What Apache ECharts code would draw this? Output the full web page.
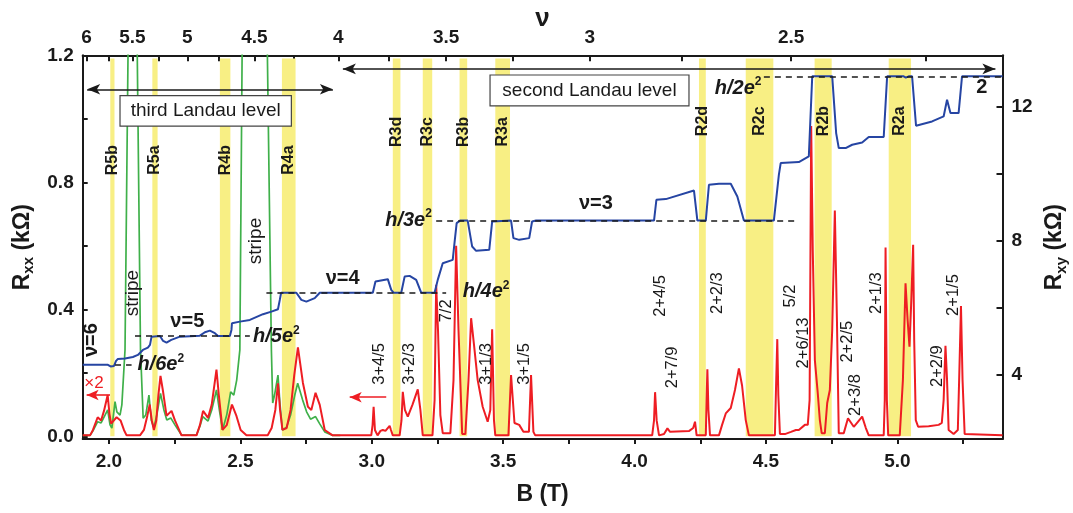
<!DOCTYPE html>
<html><head><meta charset="utf-8">
<script src="https://cdn.jsdelivr.net/npm/echarts@6/dist/echarts.min.js"></script>
<style>html,body{margin:0;padding:0;background:#fff}#c{width:1073px;height:513px}</style>
</head><body><div id="c"></div>
<script>
// ---------- data ----------
const redB = [1.900,1.928,1.939,1.957,1.970,1.981,1.995,2.002,2.008,2.015,2.029,2.044,2.057,2.067,2.118,2.133,2.146,2.155,2.163,2.171,2.180,2.188,2.196,2.205,2.219,2.238,2.251,2.276,2.333,2.346,2.358,2.377,2.391,2.409,2.418,2.432,2.448,2.468,2.485,2.501,2.523,2.604,2.619,2.633,2.643,2.651,2.660,2.676,2.691,2.705,2.719,2.738,2.757,2.770,2.786,2.802,2.821,2.851,2.998,3.003,3.007,3.012,3.022,3.033,3.042,3.052,3.068,3.073,3.080,3.106,3.113,3.118,3.126,3.137,3.155,3.175,3.185,3.194,3.231,3.239,3.245,3.252,3.261,3.270,3.299,3.311,3.321,3.330,3.344,3.356,3.368,3.378,3.389,3.403,3.422,3.441,3.451,3.458,3.465,3.470,3.520,3.530,3.543,3.561,3.577,3.598,3.606,3.615,3.622,4.067,4.074,4.078,4.084,4.093,4.112,4.125,4.135,4.208,4.223,4.230,4.236,4.271,4.274,4.277,4.281,4.287,4.321,4.333,4.347,4.366,4.382,4.397,4.409,4.423,4.435,4.534,4.538,4.543,4.547,4.553,4.572,4.595,4.614,4.625,4.648,4.659,4.666,4.672,4.678,4.686,4.697,4.705,4.712,4.724,4.733,4.743,4.752,4.762,4.770,4.777,4.796,4.812,4.834,4.849,4.866,4.880,4.891,4.948,4.952,4.955,4.960,4.965,5.009,5.021,5.031,5.039,5.046,5.053,5.060,5.064,5.070,5.079,5.119,5.157,5.169,5.176,5.183,5.189,5.195,5.214,5.230,5.235,5.242,5.248,5.256,5.400];
const redR = [0.003,0.003,0.02,0.06,0.05,0.08,0.13,0.07,0.04,0.045,0.06,0.05,0.02,0.003,0.003,0.02,0.065,0.10,0.05,0.02,0.05,0.13,0.19,0.145,0.065,0.08,0.05,0.003,0.003,0.035,0.08,0.058,0.10,0.21,0.13,0.02,0.035,0.10,0.064,0.02,0.003,0.003,0.026,0.083,0.167,0.083,0.02,0.026,0.083,0.193,0.28,0.168,0.093,0.083,0.137,0.099,0.02,0.003,0.003,0.035,0.093,0.02,0.003,0.017,0.02,0.017,0.033,0.02,0.003,0.003,0.05,0.14,0.083,0.062,0.10,0.148,0.083,0.003,0.003,0.114,0.477,0.335,0.067,0.01,0.01,0.177,0.60,0.335,0.007,0.007,0.177,0.372,0.288,0.177,0.093,0.046,0.083,0.337,0.05,0.003,0.003,0.193,0.042,0.036,0.014,0.014,0.193,0.014,0.003,0.003,0.05,0.139,0.05,0.003,0.007,0.025,0.014,0.017,0.026,0.046,0.003,0.003,0.114,0.211,0.083,0.003,0.003,0.036,0.072,0.089,0.146,0.214,0.16,0.051,0.003,0.003,0.146,0.306,0.13,0.007,0.007,0.014,0.02,0.02,0.036,0.036,0.114,0.977,0.587,0.24,0.136,0.051,0.01,0.01,0.105,0.146,0.335,0.711,0.366,0.01,0.01,0.057,0.03,0.045,0.062,0.026,0.003,0.003,0.114,0.595,0.114,0.003,0.003,0.177,0.482,0.366,0.282,0.429,0.603,0.303,0.051,0.03,0.032,0.036,0.042,0.114,0.285,0.177,0.02,0.007,0.02,0.177,0.41,0.177,0.007,0.003];

const greenB = [1.900,1.928,1.939,1.957,1.970,1.985,1.995,2.004,2.011,2.023,2.030,2.042,2.049,2.061,2.073,2.091,2.107,2.120,2.130,2.140,2.152,2.161,2.171,2.182,2.196,2.209,2.220,2.235,2.251,2.276,2.333,2.346,2.357,2.377,2.391,2.409,2.420,2.432,2.448,2.463,2.475,2.486,2.498,2.507,2.555,2.602,2.618,2.623,2.630,2.643,2.651,2.660,2.676,2.691,2.707,2.718,2.737,2.752,2.767,2.786,2.802,2.821,2.851,2.880];
const greenR = [0.003,0.003,0.017,0.046,0.042,0.067,0.083,0.036,0.026,0.109,0.077,0.067,0.099,0.272,1.248,1.6,1.248,0.272,0.057,0.067,0.13,0.051,0.026,0.067,0.135,0.083,0.051,0.058,0.036,0.004,0.004,0.032,0.062,0.048,0.083,0.146,0.083,0.02,0.067,0.14,0.13,0.177,0.272,1.248,1.6,1.248,0.272,0.105,0.13,0.193,0.099,0.02,0.029,0.067,0.13,0.167,0.114,0.077,0.054,0.062,0.039,0.014,0.003,0.003];

const blueB = [1.900,1.996,2.006,2.019,2.027,2.034,2.061,2.091,2.110,2.129,2.148,2.156,2.162,2.167,2.194,2.206,2.219,2.237,2.270,2.346,2.365,2.384,2.403,2.415,2.460,2.466,2.468,2.498,2.536,2.586,2.618,2.643,2.650,2.655,2.713,2.732,2.751,2.783,2.802,3.004,3.014,3.061,3.074,3.083,3.112,3.125,3.144,3.169,3.188,3.239,3.251,3.270,3.308,3.316,3.323,3.336,3.365,3.382,3.397,3.447,3.458,3.530,3.539,3.561,3.599,3.610,3.625,4.074,4.083,4.119,4.226,4.239,4.271,4.283,4.321,4.366,4.391,4.416,4.530,4.549,4.556,4.625,4.663,4.676,4.752,4.767,4.777,4.803,4.828,4.866,4.891,4.948,4.961,5.024,5.032,5.043,5.056,5.071,5.132,5.176,5.189,5.202,5.233,5.246,5.400];
const blueR = [4.302,4.302,4.254,4.27,4.418,4.478,4.493,4.537,4.597,4.746,4.815,4.896,5.143,5.163,5.163,5.015,4.964,5.045,5.143,5.173,5.275,5.322,5.245,5.163,5.163,5.343,5.543,5.591,5.642,5.812,5.890,5.961,6.239,6.453,6.453,6.239,6.188,6.290,6.453,6.453,6.785,6.857,6.537,6.453,6.453,6.934,6.955,6.836,6.457,6.453,6.836,7.334,7.433,8.03,8.528,8.604,8.604,7.830,7.701,7.731,8.576,8.604,8.081,8.030,8.081,8.576,8.604,8.604,9.224,9.245,9.501,8.604,8.604,9.672,9.701,9.701,9.322,8.604,8.604,9.97,10.319,10.349,10.516,12.906,12.906,11.215,10.767,10.767,10.866,10.934,11.096,11.096,12.906,12.906,12.87,12.906,12.906,11.433,11.561,11.710,12.209,11.812,11.812,12.906,12.906];

const bandLabels = ['R5b','R5a','R4b','R4a','R3d','R3c','R3b','R3a','R2d','R2c','R2b','R2a'];
const bandStart  = [2.005,2.165,2.422,2.658,3.080,3.194,3.334,3.470,4.245,4.423,4.685,4.967];
const bandEnd    = [2.021,2.185,2.462,2.710,3.109,3.230,3.363,3.526,4.271,4.528,4.750,5.052];
const bandLabelR = [0.87,0.87,0.87,0.87,0.959,0.959,0.959,0.959,0.993,0.993,0.993,0.993];

// plateaus h/(n e^2) in kOhm
const plateauN    = [2, 3, 4, 5, 6];
const plateauVal  = [12.906, 8.604, 6.453, 5.163, 4.302];
const plateauFrom = [4.492, 3.245, 2.599, 2.099, 2.023];
const plateauTo   = [5.400, 4.625, 3.283, 2.536, 2.086];

const fracText = ['3+4/5','3+2/3','7/2','3+1/3','3+1/5','2+7/9','2+4/5','2+2/3','5/2','2+6/13','2+2/5','2+3/8','2+1/3','2+2/9','2+1/5'];
const fracB    = [3.030,3.144,3.283,3.435,3.580,4.144,4.100,4.315,4.594,4.644,4.809,4.841,4.920,5.151,5.214];
const fracR    = [0.228,0.228,0.395,0.228,0.228,0.217,0.442,0.451,0.442,0.294,0.298,0.130,0.451,0.221,0.445];

const xTicks  = [2.0,2.25,2.5,2.75,3.0,3.25,3.5,3.75,4.0,4.25,4.5,4.75,5.0,5.25];
const xLabels = [2.0,2.5,3.0,3.5,4.0,4.5,5.0];
const nuTicks  = [6,5.75,5.5,5.25,5,4.75,4.5,4.25,4,3.75,3.5,3.25,3,2.75,2.5,2.25];
const nuLabels = [6,5.5,5,4.5,4,3.5,3,2.5];
const NU_B = 11.49; // filling factor x field (T)
const yLTicks = [0,0.2,0.4,0.6,0.8,1.0,1.2];
const yLLabels = [0,0.4,0.8,1.2];
const yRTicks = [4,6,8,10,12];
const yRLabels = [4,8,12];

// ---------- chart ----------
const FONT = '"Liberation Sans", Arial, Helvetica, sans-serif';
const INK = '#1a1a1a';
const RED = '#ee1d23', BLUE = '#2645a3', GREEN = '#3fb04a', YEL = '#f8ef84';
const zip = (a, b) => a.map((v, i) => [v, b[i]]);
const lblStyle = {fontSize: 19, fontWeight: 'bold', fontFamily: FONT, color: INK};
const axLine = {show: true, onZero: false, lineStyle: {color: INK, width: 2}};

const chart = echarts.init(document.getElementById('c'));
const option = {
  animation: false,
  backgroundColor: '#fff',
  grid: {left: 82.7, right: 70.5, top: 55.3, bottom: 74, containLabel: false, outerBoundsMode: 'none'},
  xAxis: [
    {type: 'value', min: 1.9, max: 5.4, position: 'bottom', axisLine: axLine, splitLine: {show: false},
     axisTick: {show: true, inside: false, length: 5, lineStyle: {color: INK, width: 2}, customValues: xTicks},
     axisLabel: Object.assign({customValues: xLabels, margin: 13, formatter: v => v.toFixed(1)}, lblStyle),
     name: 'B (T)', nameLocation: 'middle', nameGap: 44,
     nameTextStyle: {fontSize: 23, fontWeight: 'bold', fontFamily: FONT, color: INK}},
    {type: 'value', min: 1.9, max: 5.4, position: 'top', axisLine: axLine, splitLine: {show: false},
     axisTick: {show: true, inside: true, length: 6, lineStyle: {color: INK, width: 2}, customValues: nuTicks.map(n => NU_B / n)},
     axisLabel: Object.assign({customValues: nuLabels.map(n => NU_B / n), margin: 8,
       formatter: v => { const n = Math.round(NU_B / v * 4) / 4; return (n % 1 === 0) ? String(n) : n.toFixed(1); }}, lblStyle),
     name: 'ν', nameLocation: 'middle', nameGap: 23, nameMoveOverlap: false,
     nameTextStyle: {fontSize: 26, fontWeight: 'bold', fontFamily: FONT, color: INK}}
  ],
  yAxis: [
    {type: 'value', min: -0.0085, max: 1.2, position: 'left', axisLine: axLine, splitLine: {show: false},
     axisTick: {show: true, inside: true, length: 5, lineStyle: {color: INK, width: 2}, customValues: yLTicks},
     axisLabel: Object.assign({customValues: yLLabels, margin: 9, formatter: v => v.toFixed(1)}, lblStyle),
     name: '{r|R}{s|xx}{r| (kΩ)}', nameLocation: 'middle', nameRotate: 90, nameGap: 43,
     nameTextStyle: {rich: {
       r: {fontSize: 23, fontWeight: 'bold', fontFamily: FONT, color: INK, lineHeight: 28},
       s: {fontSize: 15, fontWeight: 'bold', fontFamily: FONT, color: INK, lineHeight: 15, verticalAlign: 'bottom'}}}},
    {type: 'value', min: 2.09, max: 13.534, position: 'right', axisLine: axLine, splitLine: {show: false},
     axisTick: {show: true, inside: true, length: 6, lineStyle: {color: INK, width: 2}, customValues: yRTicks},
     axisLabel: Object.assign({customValues: yRLabels, margin: 9, formatter: v => String(v)}, lblStyle),
     name: '{r|R}{s|xy}{r| (kΩ)}', nameLocation: 'middle', nameRotate: 90, nameGap: 31,
     nameTextStyle: {rich: {
       r: {fontSize: 23, fontWeight: 'bold', fontFamily: FONT, color: INK, lineHeight: 28},
       s: {fontSize: 15, fontWeight: 'bold', fontFamily: FONT, color: INK, lineHeight: 15, verticalAlign: 'bottom'}}}}
  ],
  series: [
    {name: 'bands', type: 'line', data: [], z: 1, silent: true,
     markArea: {silent: true, itemStyle: {color: YEL}, label: {show: false},
       data: bandStart.map((s, i) => [{xAxis: s, yAxis: 0}, {xAxis: bandEnd[i], yAxis: 1.19}])},
     markLine: {silent: true, symbol: ['arrow', 'arrow'], symbolSize: [8, 13], label: {show: false},
       lineStyle: {color: INK, width: 1.6, type: 'solid'},
       data: [
         [{coord: [1.917, 1.093]}, {coord: [2.852, 1.093]}],
         [{coord: [2.890, 1.157]}, {coord: [5.373, 1.157]}]
       ]}},
    {name: 'green', type: 'line', data: zip(greenB, greenR), z: 2, showSymbol: false, symbol: 'none',
     lineStyle: {color: GREEN, width: 1.7}, clip: true},
    {name: 'Rxx', type: 'line', data: zip(redB, redR), z: 3, showSymbol: false, symbol: 'none',
     lineStyle: {color: RED, width: 2}, clip: true,
     markLine: {silent: true, symbol: ['none', 'arrow'], symbolSize: [8, 12], label: {show: false},
       lineStyle: {color: RED, width: 1.6, type: 'solid'},
       data: [
         [{coord: [2.004, 0.13]}, {coord: [1.915, 0.13]}],
         [{coord: [3.055, 0.123]}, {coord: [2.916, 0.123]}]
       ]}},
    {name: 'Rxy', type: 'line', yAxisIndex: 1, data: zip(blueB, blueR), z: 4, showSymbol: false, symbol: 'none',
     lineStyle: {color: BLUE, width: 2}, clip: true,
     markLine: {silent: true, symbol: ['none', 'none'], label: {show: false},
       lineStyle: {color: INK, width: 1.5, type: [6, 5]},
       data: plateauVal.map((v, i) => [{coord: [plateauFrom[i], v]}, {coord: [plateauTo[i], v]}])}}
  ]
};
chart.setOption(option);

// ---------- annotations placed in data coordinates ----------
const P = (b, r) => chart.convertToPixel({xAxisIndex: 0, yAxisIndex: 0}, [b, r]);
const G = [];
function txt(t, b, r, o) {
  o = o || {};
  const p = P(b, r);
  G.push({type: 'text', x: p[0], y: p[1], rotation: o.rot ? Math.PI / 2 : 0, z: 100, silent: true,
    style: {text: t, fontSize: o.size || 16, fontWeight: o.bold ? 'bold' : 'normal', fontStyle: o.italic ? 'italic' : 'normal',
      fontFamily: FONT, fill: o.color || INK, align: 'center', verticalAlign: 'middle', rich: o.rich}});
}
function box(b1, r1, b2, r2, label) {
  const p1 = P(b1, r1), p2 = P(b2, r2);
  G.push({type: 'rect', z: 99, silent: true, shape: {x: p1[0], y: p1[1], width: p2[0] - p1[0], height: p2[1] - p1[1]},
    style: {fill: '#fff', stroke: '#444', lineWidth: 1.2}});
  txt(label, (b1 + b2) / 2, (r1 + r2) / 2, {size: 19});
}
box(2.042, 1.073, 2.694, 0.977, 'third Landau level');
box(3.450, 1.138, 4.207, 1.041, 'second Landau level');

bandLabels.forEach((l, i) => txt(l, (bandStart[i] + bandEnd[i]) / 2, bandLabelR[i], {rot: true, bold: true, size: 16}));
fracText.forEach((t, i) => txt(t, fracB[i], fracR[i], {rot: true, size: 16.5}));

const hRich = (size) => ({
  i: {fontSize: size, fontWeight: 'bold', fontStyle: 'italic', fontFamily: FONT, fill: INK, lineHeight: size + 4},
  s: {fontSize: Math.round(size * 0.62), fontWeight: 'bold', fontFamily: FONT, fill: INK, verticalAlign: 'top', lineHeight: 12}
});
const hLabelB = [4.394, 3.140, 3.435, 2.637, 2.197];
const hLabelR = [1.097, 0.681, 0.455, 0.314, 0.225];
plateauN.forEach((n, i) => txt('{i|h/' + n + 'e}{s|2}', hLabelB[i], hLabelR[i], {rich: hRich(20)}));

txt('2', 5.321, 1.100, {bold: true, size: 20});
txt('ν=3', 3.853, 0.734, {bold: true, size: 20});
txt('ν=4', 2.889, 0.498, {bold: true, size: 20});
txt('ν=5', 2.298, 0.361, {bold: true, size: 20});
txt('ν=6', 1.935, 0.303, {bold: true, size: 20, rot: true});
txt('stripe', 2.092, 0.451, {rot: true, size: 19});
txt('stripe', 2.558, 0.615, {rot: true, size: 19});
txt('×2', 1.943, 0.167, {size: 17, color: RED});

chart.setOption({graphic: G});
</script>
</body></html>
